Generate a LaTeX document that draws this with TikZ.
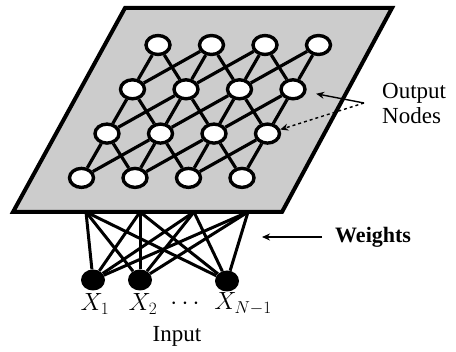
\documentclass[tikz,border=0pt]{standalone}
\usepackage{fontspec}
\setmainfont{Liberation Serif}
\usetikzlibrary{arrows.meta,shapes.geometric}

\begin{document}
\begin{tikzpicture}[x=1pt,y=-1pt,
outnode/.style={ellipse,draw,line width=3.4pt,fill=white,minimum width=24pt,minimum height=19pt,inner sep=0pt},
innode/.style={ellipse,fill=black,minimum width=24pt,minimum height=21pt,inner sep=0pt},
link/.style={line width=3.2pt},
weight/.style={line width=3pt},
lbl/.style={font=\fontsize{23}{25}\selectfont,inner sep=1pt},
arrow/.style={-{Stealth[length=8pt,width=7pt]},line width=1.4pt}]

\useasboundingbox (0,0) rectangle (456,352);

% plane of output nodes
\draw[line width=4pt,fill=black!20] (125,8) -- (392,8) -- (282,212) -- (13,212) -- cycle;

\foreach \r in {0,...,3}
  \foreach \c in {0,...,3}
    \node[outnode] (o\r\c) at ({158+53.5*\c-25.5*\r},{45+44.3*\r}) {};

\foreach \r in {0,...,3}
  \foreach \c [evaluate=\c as \d using int(\c+1)] in {0,1,2}
    \draw[link] (o\r\c) -- (o\r\d);

\foreach \r [evaluate=\r as \s using int(\r+1)] in {0,1,2} {
  \foreach \c in {0,...,3}
    \draw[link] (o\r\c) -- (o\s\c);
  \foreach \c [evaluate=\c as \d using int(\c+1)] in {0,1,2} {
    \draw[link] (o\r\c) -- (o\s\d);
    \draw[link] (o\r\d) -- (o\s\c);
  }
}

% inputs and weights
\node[innode] (x1) at (93,280) {};
\node[innode] (x2) at (140,280) {};
\node[innode] (xn) at (227,281) {};

\coordinate (w1) at (86,212);
\coordinate (w2) at (140,212);
\coordinate (w3) at (194,212);
\coordinate (w4) at (248,212);

\foreach \i in {x1,x2,xn}
  \foreach \j in {1,...,4}
    \draw[weight] (\i) -- (w\j);

\node[lbl] (l1) at (95,304) {$X_1$};
\node[lbl] (l2) at (143,304) {$X_2$};
\node[lbl] (dots) at (185,304) {$\cdots$};
\node[lbl] (ln) at (243,304) {$X_{N-1}$};
\node[lbl] (inp) at (177,336) {Input};

% labels on the right
\node[lbl,align=left,anchor=west] (outlbl) at (381,104) {Output\\Nodes};
\coordinate (p) at (364,103);
\draw[arrow,shorten >=10pt] (p) -- (o13);
\draw[arrow,dashed] (p) -- (o23);

\node[lbl,font=\fontsize{22}{25}\selectfont\bfseries,anchor=west] (wt) at (334,237) {Weights};
\coordinate (wtip) at (262,237);
\draw[arrow,shorten <=12pt] (wt.west) -- (wtip |- wt.west);

\end{tikzpicture}
\end{document}
